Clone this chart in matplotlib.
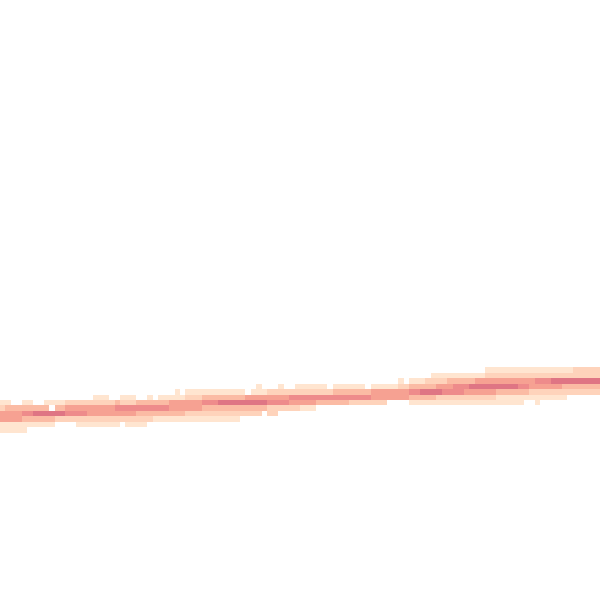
import numpy as np
import matplotlib
matplotlib.use("Agg")
import matplotlib.pyplot as plt
from matplotlib.colors import ListedColormap, BoundaryNorm

# 2D histogram: binned density levels (0 = empty).
# One string per bin row (top to bottom), one character per x bin (110 bins).
n_xbins = 110
density_rows = [
    "0" * 89 + "1" * 16 + "2" * 5,
    "0" * 79 + "1" * 10 + "2" * 21,
    "0" * 73 + "1" + "0" + "1" * 3 + "2" * 4 + "3" * 5 + "4" * 11 + "5" * 3 + "6" * 9,
    "0" * 47 + "1" + "0" * 3 + "1" + "0" * 2 + "1" * 6 + "0" + "1" * 6 + "0" + "1" * 5
    + "2" * 2 + "3" * 5 + "4" * 3 + "5" * 3 + "6" * 9 + "5" * 2 + "4" * 6 + "3" * 7,
    "0" * 32 + "1" + "0" + "1" * 11 + "0" + "1" * 3 + "2" * 6 + "2" * 6 + "3" * 7
    + "4" * 7 + "5" * 2 + "6" * 4 + "5" * 4 + "4" * 6 + "3" * 6 + "2" * 13,
    "0" * 17 + "1" * 3 + "0" * 2 + "1" * 3 + "0" * 2 + "1" + "0" + "1" * 5 + "2" * 3
    + "3" * 8 + "4" * 8 + "5" * 15 + "4" * 7 + "3" * 5 + "2" * 11 + "1" * 13 + "0" * 6,
    "1" * 2 + "0" * 2 + "1" * 2 + "0" * 2 + "1" * 4 + "2" * 9 + "3" + "2" * 3 + "3" * 6
    + "4" * 6 + "5" * 3 + "6" * 9 + "5" * 4 + "4" * 5 + "3" * 6 + "2" * 7 + "0" * 4
    + "1" * 21 + "0" * 2 + "1" + "0" * 11,
    "2" + "3" * 8 + "0" + "3" * 2 + "4" * 9 + "5" * 10 + "4" * 6 + "3" * 12 + "2" * 6
    + "1" * 3 + "0" * 52,
    "4" * 4 + "5" * 2 + "6" * 6 + "5" * 4 + "4" * 9 + "3" * 9 + "2" * 14 + "0"
    + "2" * 2 + "0" * 59,
    "4" * 4 + "3" * 6 + "2" * 18 + "1" * 16 + "0" * 66,
    "1" * 10 + "0" * 4 + "1" * 8 + "0" + "1" * 4 + "0" * 83,
    "1" * 5 + "0" * 105,
]
top_row_edge = 42.667  # y of the upper edge of the first bin row (bins of height 1)

level_colors = ["#FFE5D0", "#FED3BB", "#FBBBA4", "#F6A192", "#EE8B8B", "#DF7584"]

grid = np.array([[int(c) for c in row] for row in density_rows], dtype=float)
grid = np.ma.masked_equal(grid, 0)
x_edges = np.arange(n_xbins + 1)
y_edges = top_row_edge - np.arange(len(density_rows) + 1)

cmap = ListedColormap(level_colors)
norm = BoundaryNorm(np.arange(0.5, len(level_colors) + 1.5), cmap.N)

fig = plt.figure(figsize=(6, 6), dpi=100)
ax = fig.add_axes([0, 0, 1, 1])
ax.pcolormesh(x_edges, y_edges, grid, cmap=cmap, norm=norm, shading="flat",
              edgecolors="none", antialiased=False)
ax.set_xlim(0, n_xbins)
ax.set_ylim(0, n_xbins)
ax.axis("off")
fig.savefig("out.png", dpi=100, facecolor="white")
